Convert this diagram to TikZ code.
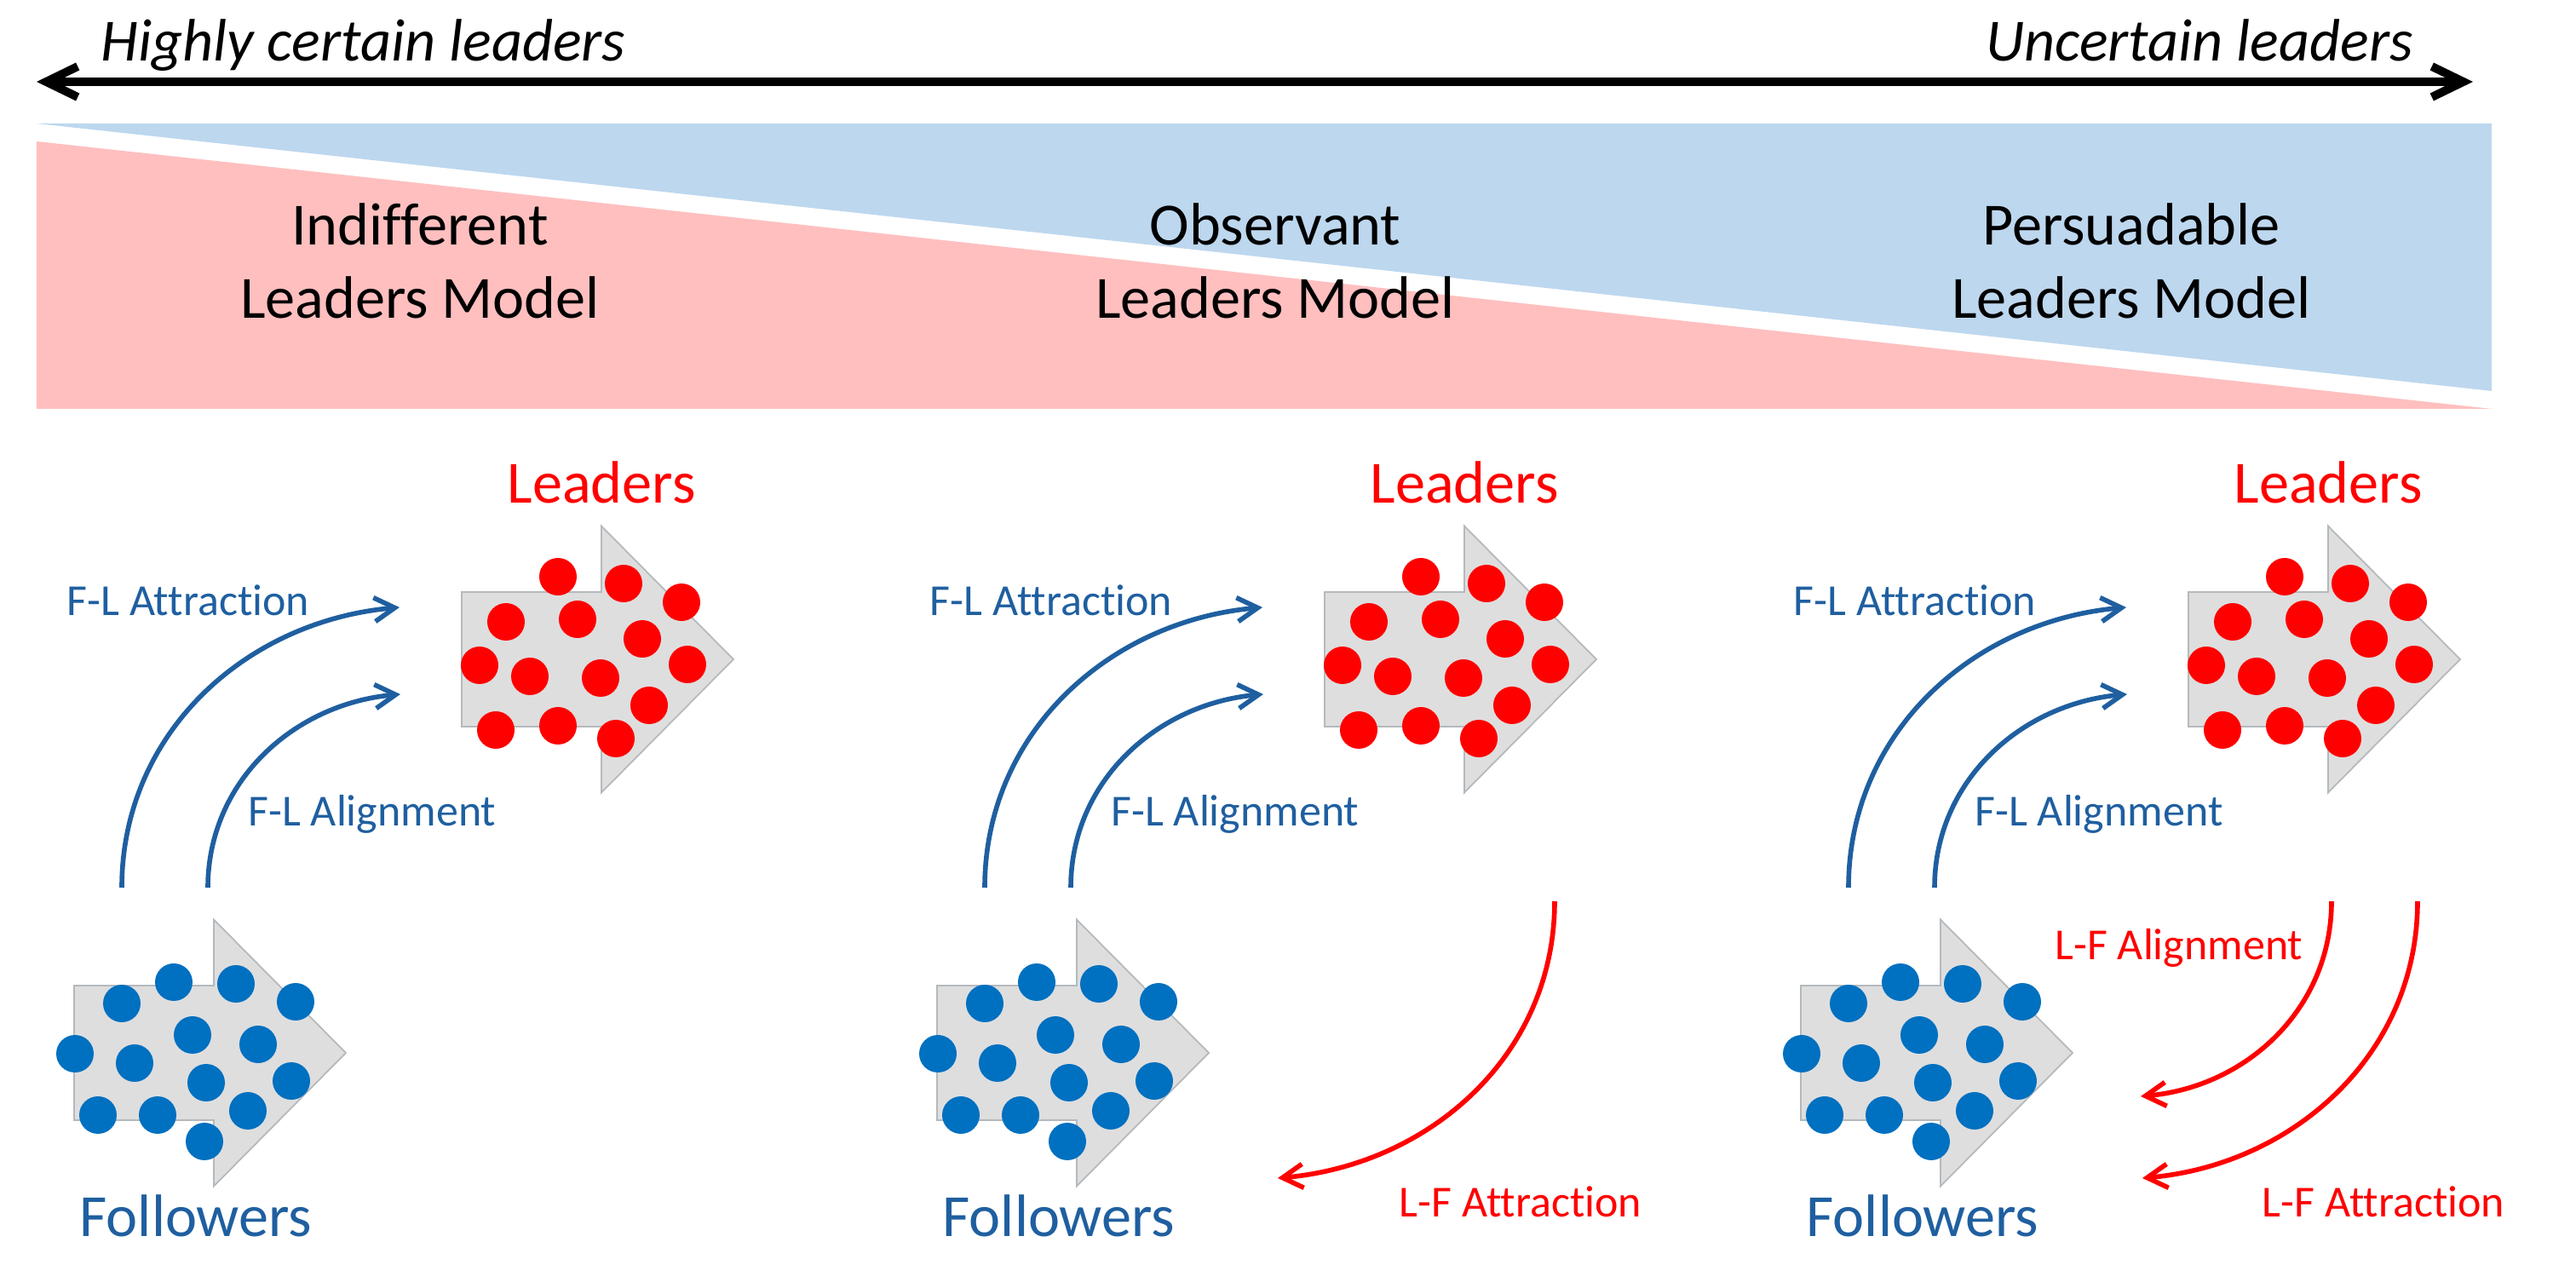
\documentclass[tikz,border=0pt]{standalone}
\usepackage{fontspec}
\setmainfont{Carlito}[Ligatures=NoCommon]
\usetikzlibrary{arrows.meta}

\definecolor{lightblue}{RGB}{189,215,238}
\definecolor{lightred}{RGB}{255,191,191}
\definecolor{darkblue}{RGB}{31,95,160}
\definecolor{dotblue}{RGB}{0,112,192}
\definecolor{arrowgray}{RGB}{222,222,222}
\definecolor{edgegray}{RGB}{180,185,188}

\tikzset{
	bigtext/.style={font=\fontsize{20}{24.5}\selectfont},
	toptext/.style={font=\fontsize{20}{24}\selectfont\itshape},
	smalltext/.style={font=\fontsize{14.8}{18}\selectfont},
	flcurve/.style={draw=darkblue, line width=1.6pt, -{Straight Barb[length=2.4mm,width=2.8mm]}},
	lfcurve/.style={draw=red, line width=1.6pt, -{Straight Barb[length=2.4mm,width=2.8mm]}},
	blockarrow/.style={fill=arrowgray, draw=edgegray, line width=0.5pt},
}

\begin{document}
\begin{tikzpicture}
		\useasboundingbox (0,0) rectangle (30.24,15.12);
		% 顶部箭头
		\coordinate (certain) at (0.43,14.16);
		\coordinate (uncertain) at (29.03,14.16);
		\draw[line width=2.8pt, line cap=round, {Straight Barb[length=3.7mm,width=3.6mm]}-{Straight Barb[length=3.7mm,width=3.6mm]}] (certain) -- (uncertain);
		\node[toptext, anchor=base west] (hcl) at (1.06,14.40) {Highly certain leaders};
		\node[toptext, anchor=base east] (ucl) at (28.45,14.40) {Uncertain leaders};
		% 两个三角形
		\fill[lightblue] (0.43,13.67) -- (29.25,13.67) -- (29.25,10.53) -- cycle;
		\fill[lightred] (0.43,13.46) -- (0.43,10.32) -- (29.25,10.32) -- cycle;
		\node[bigtext, align=center] (indiff) at (4.93,12.06) {Indifferent\\Leaders Model};
		\node[bigtext, align=center] (observ) at (14.97,12.06) {Observant\\Leaders Model};
		\node[bigtext, align=center] (persua) at (25.02,12.06) {Persuadable\\Leaders Model};
		% 三个模型
		\foreach \p/\dx in {1/0, 2/10.13, 3/20.27} {
		\begin{scope}[xshift=\dx cm]
			% 领导者
			\begin{scope}[shift={(5.42,7.38)}]
				\draw[blockarrow] (0,0.79) -- (1.64,0.79) -- (1.64,1.565) -- (3.19,0) -- (1.64,-1.565) -- (1.64,-0.79) -- (0,-0.79) -- cycle;
				\foreach \x/\y in {1.13/0.97, 1.90/0.89, 2.58/0.67, 0.52/0.44, 1.36/0.47, 2.12/0.24, 0.21/-0.07,
					0.80/-0.20, 1.63/-0.22, 2.65/-0.06, 2.20/-0.54, 0.40/-0.83, 1.13/-0.78, 1.81/-0.93}
					\fill[red] (\x,\y) circle (0.22);
			\end{scope}
			% 跟随者
			\begin{scope}[shift={(0.87,2.76)}]
				\draw[blockarrow] (0,0.79) -- (1.64,0.79) -- (1.64,1.565) -- (3.19,0) -- (1.64,-1.565) -- (1.64,-0.79) -- (0,-0.79) -- cycle;
				\foreach \x/\y in {1.17/0.83, 1.90/0.81, 0.56/0.58, 2.60/0.60, 1.39/0.21, 2.16/0.10, 0.01/-0.01,
					0.71/-0.12, 1.55/-0.35, 2.55/-0.33, 0.28/-0.73, 0.98/-0.73, 2.04/-0.68, 1.53/-1.04}
					\fill[dotblue] (\x,\y) circle (0.22);
			\end{scope}
			\node[bigtext, text=red, anchor=base] (leaders\p) at (7.06,9.21) {Leaders};
			\node[bigtext, text=darkblue, anchor=base] (followers\p) at (2.30,0.60) {Followers};
			% F-L 箭头
			\coordinate (fas\p) at (1.43,4.70);
			\coordinate (fae\p) at (4.69,7.99);
			\coordinate (fls\p) at (2.44,4.70);
			\coordinate (fle\p) at (4.70,6.97);
			\draw[flcurve] (fas\p) to[out=90,in=185] (fae\p);
			\draw[flcurve] (fls\p) to[out=90,in=185] (fle\p);
			\node[smalltext, text=darkblue, anchor=base] (flattr\p) at (2.21,7.89) {F-L Attraction};
			\node[smalltext, text=darkblue, anchor=base] (flalign\p) at (4.37,5.42) {F-L Alignment};
		\end{scope}
		}
		% L-F 箭头（第二、三个模型）
		\coordinate (las2) at (18.25,4.54);
		\coordinate (lae2) at (15.00,1.29);
		\draw[lfcurve] (las2) to[out=-90,in=5] (lae2);
		\node[smalltext, text=red, anchor=base] (lfattr2) at (17.85,0.83) {L-F Attraction};
		\coordinate (las3) at (28.38,4.54);
		\coordinate (lae3) at (25.15,1.29);
		\draw[lfcurve] (las3) to[out=-90,in=5] (lae3);
		\node[smalltext, text=red, anchor=base] (lfattr3) at (27.98,0.83) {L-F Attraction};
		\coordinate (lls3) at (27.37,4.54);
		\coordinate (lle3) at (25.13,2.25);
		\draw[lfcurve] (lls3) to[out=-90,in=5] (lle3);
		\node[smalltext, text=red, anchor=base] (lfalign3) at (25.58,3.85) {L-F Alignment};
\end{tikzpicture}
\end{document}
